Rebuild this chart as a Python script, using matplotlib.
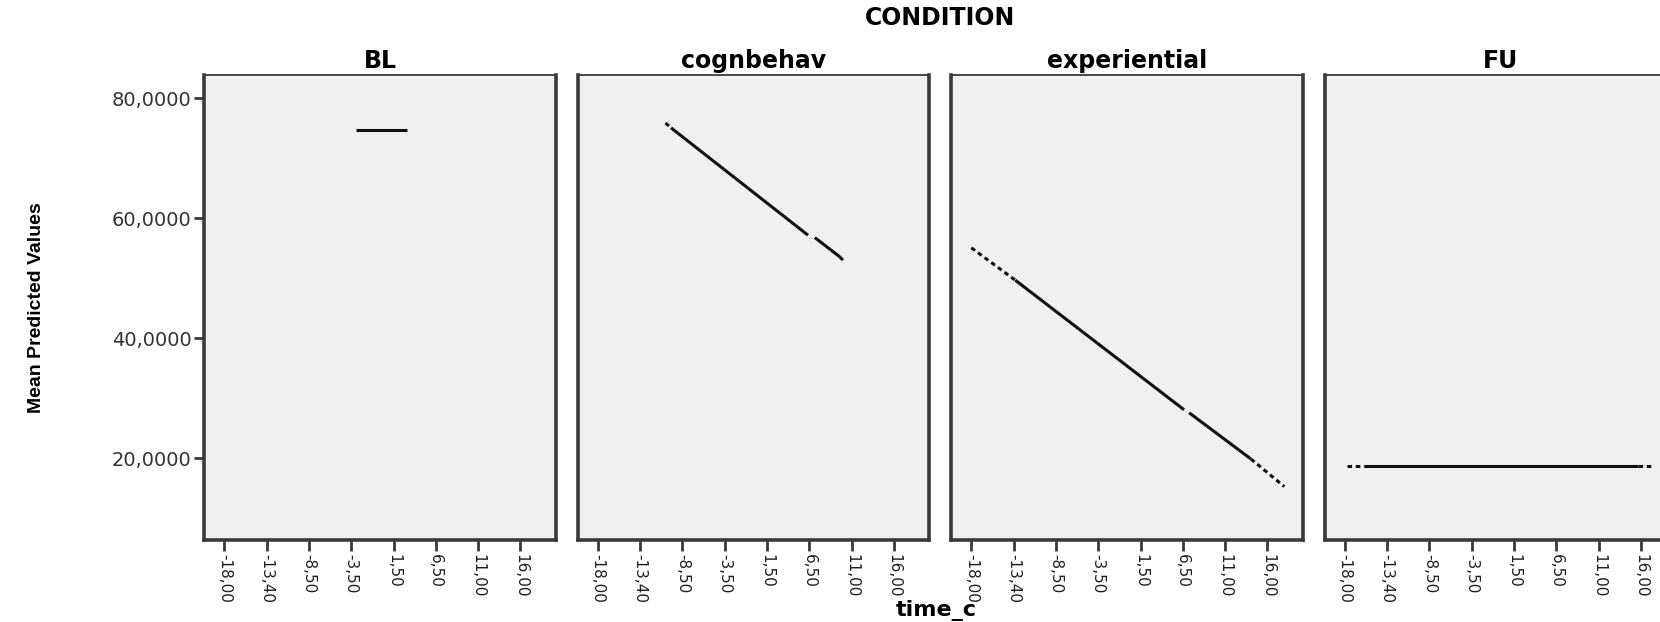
import numpy as np
import matplotlib.pyplot as plt

# panel names and tick labels (time_c categories)
conditions = ['BL', 'cognbehav', 'experiential', 'FU']
time_labels = ['-18,00', '-13,40', '-8,50', '-3,50', '1,50', '6,50', '11,00', '16,00']
y_ticks = [20, 40, 60, 80]

# mean predicted values, x = category position of time_c
bl_time = [3.12, 4.32]
bl_pred = [74.8, 74.8]
cogn_time = [1.60, 1.73, 4.97, 5.13, 5.72, 5.84]
cogn_pred = [75.9, 75.1, 57.2, 56.8, 53.6, 52.7]
exp_time = [0.00, 1.04, 5.03, 5.15, 6.61, 7.40]
exp_pred = [55.1, 49.7, 28.1, 27.6, 19.9, 15.3]
fu_time = [0.06, 0.45, 6.93, 7.28]
fu_pred = [18.8, 18.8, 18.8, 18.8]

series = [(bl_time, bl_pred), (cogn_time, cogn_pred), (exp_time, exp_pred), (fu_time, fu_pred)]
# how each piece between two points is drawn: s = solid, d = dotted, '' = gap
seg_styles = [['s'], ['d', 's', '', 's', 'd'], ['d', 's', '', 's', 'd'], ['d', 's', 'd']]

plt.rcParams['font.family'] = ['DejaVu Sans']
fig = plt.figure(figsize=(16.6, 6.22), dpi=100)

frame = '#3a3a3a'
left0, bottom, w, h, step = 0.1229, 0.1318, 0.2120, 0.7476, 0.2250

for i, cond in enumerate(conditions):
    ax = fig.add_axes([left0 + i * step, bottom, w, h])
    ax.set_facecolor('#f0f0f0')
    t, p = series[i]
    for k, st in enumerate(seg_styles[i]):
        if st == 's':
            ax.plot(t[k:k + 2], p[k:k + 2], color='#111111', lw=2.2, solid_capstyle='butt')
        elif st == 'd':
            ax.plot(t[k:k + 2], p[k:k + 2], color='#111111', lw=2.2, ls=(0, (1.5, 1.2)))
    ax.set_xlim(-0.48, 7.84)
    ax.set_ylim(6.39, 83.9)
    ax.set_xticks(range(len(time_labels)))
    ax.set_xticklabels(time_labels, rotation=270, fontsize=11, color='#1e1e1e')
    ax.tick_params(axis='x', length=8, width=2, color=frame, pad=2)
    if i == 0:
        ax.set_yticks(y_ticks)
        ax.set_yticklabels(['%d,0000' % v for v in y_ticks], fontsize=14, color='#333333')
        ax.tick_params(axis='y', length=7, width=2, color=frame, pad=2)
    else:
        ax.set_yticks([])
    for side in ['left', 'bottom', 'right']:
        ax.spines[side].set_linewidth(2.6)
        ax.spines[side].set_color(frame)
    ax.spines['top'].set_linewidth(1.3)
    ax.spines['top'].set_color(frame)
    ax.set_title(cond, fontsize=17, fontweight='bold', pad=5)

fig.text(0.566, 0.971, 'CONDITION', ha='center', va='center', fontsize=17, fontweight='bold')
fig.text(0.564, 0.018, 'time_c', ha='center', va='center', fontsize=16, fontweight='bold')
fig.text(0.022, 0.506, 'Mean Predicted Values', rotation=90, ha='center', va='center',
         fontsize=14, fontweight='bold', family=['Liberation Sans', 'DejaVu Sans'])

fig.savefig('out.png', dpi=100)
